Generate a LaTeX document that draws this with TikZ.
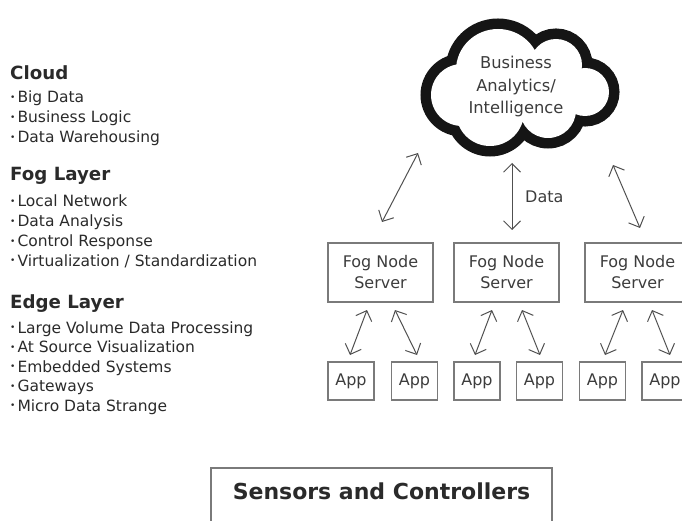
\documentclass[tikz,border=0pt]{standalone}
\usepackage{fontspec}
\setmainfont{DejaVu Sans}
\usetikzlibrary{arrows.meta,calc}
\definecolor{ink}{HTML}{2A2A2A}
\definecolor{boxtext}{HTML}{3C3C3C}
\definecolor{boxline}{HTML}{7A7A7A}
\definecolor{linkline}{HTML}{505050}
\definecolor{cloudline}{HTML}{151515}
\newcommand\bul{\raisebox{0.25ex}{\fontsize{9}{9}\selectfont•}\hspace{2pt}}
% the cloud is a union of puffs; its outline is their outer rim
\newcommand\cloudpuffs{%
  (498,70) ellipse [x radius=42,y radius=41]
  (556,65) circle [radius=26]
  (585,92) circle [radius=24]
  (548,110) circle [radius=28]
  (490,112) circle [radius=34]
  (462,95) circle [radius=31]}
\begin{document}
\begin{tikzpicture}[x=1pt,y=-1pt,
  heading/.style={anchor=base west,inner sep=0pt,text=ink,
    font=\fontsize{18.2}{22}\selectfont\bfseries},
  item/.style={anchor=base west,inner sep=0pt,text=ink,
    font=\fontsize{15.5}{18}\selectfont},
  boxlabel/.style={text=boxtext,font=\fontsize{16}{21}\selectfont,align=center},
  fogbox/.style={boxlabel,draw=boxline,line width=1.4pt,minimum width=105pt,
    minimum height=59pt,inner sep=0pt},
  appbox/.style={boxlabel,draw=boxline,line width=1.4pt,minimum width=46pt,
    minimum height=38pt,inner sep=0pt},
  link/.style={draw=linkline,line width=1pt,line cap=round,
    {Straight Barb[length=8.5pt,width=17pt]}-{Straight Barb[length=8.5pt,width=17pt]}}]
\useasboundingbox (0,0) rectangle (682,521);
\clip (0,0) rectangle (682,521);

% ---- layer descriptions
\node[heading] (hcloud) at (10,80) {Cloud};
\node[item] (c1) at (10,103) {\bul Big Data};
\node[item] (c2) at (10,123) {\bul Business Logic};
\node[item] (c3) at (10,143) {\bul Data Warehousing};

\node[heading] (hfog) at (10,181) {Fog Layer};
\node[item] (f1) at (10,207) {\bul Local Network};
\node[item] (f2) at (10,227) {\bul Data Analysis};
\node[item] (f3) at (10,247) {\bul Control Response};
\node[item] (f4) at (10,266) {\bul Virtualization / Standardization};

\node[heading] (hedge) at (10,308) {Edge Layer};
\node[item] (e1) at (10,333) {\bul Large Volume Data Processing};
\node[item] (e2) at (10,352.5) {\bul At Source Visualization};
\node[item] (e3) at (10,372) {\bul Embedded Systems};
\node[item] (e4) at (10,391.5) {\bul Gateways};
\node[item] (e5) at (10,411) {\bul Micro Data Strange};

% ---- cloud: thick rim around the union of puffs
\draw[cloudline,line width=21pt] \cloudpuffs;
\fill[white] \cloudpuffs;
\fill[white] (498,70) -- (556,65) -- (585,92) -- (548,110) -- (490,112) -- (462,95) -- cycle;
\node[boxlabel,font=\fontsize{16.3}{22.5}\selectfont] (cloud) at (516,87)
  {Business\\Analytics/\\Intelligence};

% ---- fog node servers
\node[fogbox] (fog1) at (380.5,272.5) {Fog Node\\Server};
\node[fogbox] (fog2) at (506.5,272.5) {Fog Node\\Server};
\node[fogbox] (fog3) at (637.5,272.5) {Fog Node\\Server};

% ---- applications
\node[appbox] (app1) at (351,381) {App};
\node[appbox] (app2) at (414.5,381) {App};
\node[appbox] (app3) at (477,381) {App};
\node[appbox] (app4) at (539.5,381) {App};
\node[appbox] (app5) at (602.5,381) {App};
\node[appbox] (app6) at (665,381) {App};

% ---- sensors
\node[text=ink,font=\fontsize{22}{26}\selectfont\bfseries] (sensors) at (381.5,491)
  {Sensors and Controllers};
\draw[draw=boxline,line width=1.4pt] (211,468) rectangle (552,540);

% ---- arrow end points
\coordinate (k1a) at (382,222); \coordinate (k1b) at (418,153);
\coordinate (k2a) at (512,230); \coordinate (k2b) at (512,163);
\coordinate (k3a) at (640,228); \coordinate (k3b) at (613,165);
\coordinate (a1a) at (350,355); \coordinate (a1b) at (367,310);
\coordinate (a2a) at (417,355); \coordinate (a2b) at (395,310);
\coordinate (a3a) at (475,355); \coordinate (a3b) at (492,310);
\coordinate (a4a) at (540,355); \coordinate (a4b) at (522,310);
\coordinate (a5a) at (605,355); \coordinate (a5b) at (623,310);
\coordinate (a6a) at (670,355); \coordinate (a6b) at (652,310);

\foreach \p in {k1,k2,k3,a1,a2,a3,a4,a5,a6}
  \draw[link] (\p a) -- (\p b);

\node[anchor=base west,inner sep=0pt,text=boxtext,font=\fontsize{16}{18}\selectfont]
  (data) at (525,203) {Data};
\end{tikzpicture}
\end{document}
